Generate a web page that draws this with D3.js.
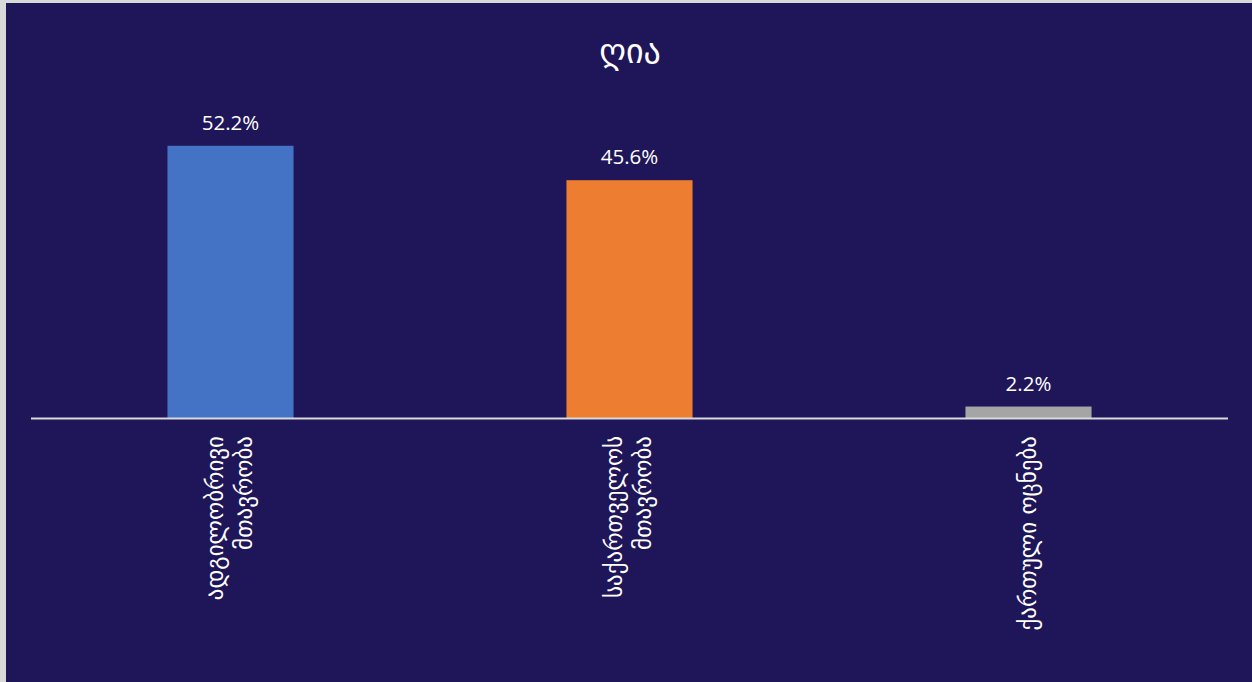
<!DOCTYPE html>
<html><head><meta charset="utf-8">
<script src="https://cdn.jsdelivr.net/npm/d3@7"></script>
<style>html,body{margin:0;padding:0;background:#d9d9d9;overflow:hidden}</style>
</head><body>
<svg id="c" width="1252" height="682"></svg>
<script>
const title = "ღია";
const categories = [["ადგილობრივი","მთავრობა"],["საქართველოს","მთავრობა"],["ქართული ოცნება"]];
const values = [52.2, 45.6, 2.2];
const valueLabels = ["52.2%","45.6%","2.2%"];
const colors = ["#4472c4","#ed7d31","#a5a5a5"];

const svg = d3.select("#c");
svg.append("rect").attr("x",6).attr("y",3).attr("width",1246).attr("height",679).attr("fill","#1f1659");

const x = d3.scaleBand().domain(d3.range(values.length)).range([31,1228]).paddingInner(0.684).paddingOuter(0.342);
const y = d3.scaleLinear().domain([0,60]).range([418,105.1]);

svg.append("text").attr("x",630).attr("y",63).attr("text-anchor","middle")
  .attr("fill","#fff").style("font-family","DejaVu Sans, sans-serif").style("font-size","34px").text(title);

svg.selectAll("rect.bar").data(values).enter().append("rect").attr("class","bar")
  .attr("x",(d,i)=>x(i)).attr("width",x.bandwidth())
  .attr("y",d=>y(d)).attr("height",d=>y(0)-y(d)).attr("fill",(d,i)=>colors[i]);

svg.selectAll("text.val").data(values).enter().append("text").attr("class","val")
  .attr("x",(d,i)=>x(i)+x.bandwidth()/2).attr("y",d=>y(d)-16)
  .attr("text-anchor","middle").attr("fill","#fff")
  .style("font-family","Open Sans, sans-serif").style("font-size","20.5px")
  .text((d,i)=>valueLabels[i]);

svg.append("line").attr("x1",31).attr("x2",1228).attr("y1",y(0)+0.5).attr("y2",y(0)+0.5)
  .attr("stroke","#d9d9d9").attr("stroke-width",2);

categories.forEach((lines,i)=>{
  const cx = x(i)+x.bandwidth()/2;
  const n = lines.length, lh = 29;
  lines.forEach((t,j)=>{
    const off = (j-(n-1)/2)*lh;
    const px = cx + off + 7;
    svg.append("text").attr("transform",`translate(${px},436) rotate(-90)`)
      .attr("text-anchor","end").attr("fill","#fff")
      .style("font-family","DejaVu Sans, sans-serif").style("font-size","23px").text(t);
  });
});
</script>
</body></html>
